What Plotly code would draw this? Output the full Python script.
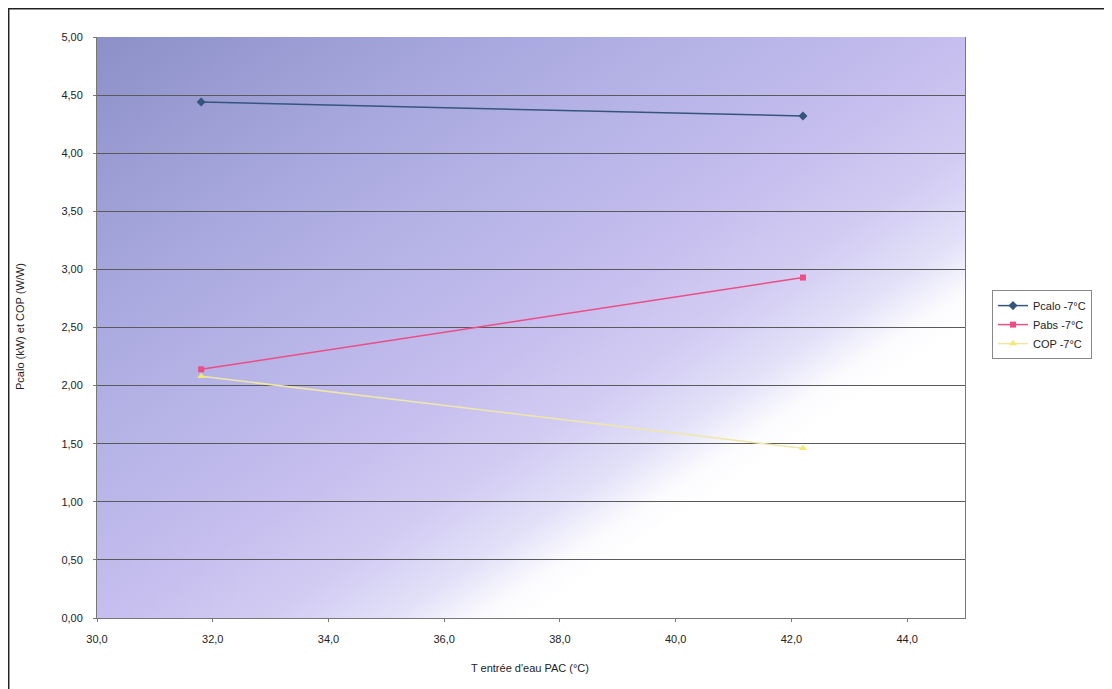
import base64
import plotly.graph_objects as go

# Data
t_water = [31.8, 42.2]
pcalo = [4.44, 4.32]
pabs = [2.14, 2.93]
cop = [2.08, 1.46]
series_names = ["Pcalo -7°C", "Pabs -7°C", "COP -7°C"]

x_title = "T entrée d'eau PAC (°C)"
y_title = "Pcalo (kW) et COP (W/W)"

svg = """<svg xmlns='http://www.w3.org/2000/svg' width='800' height='600' viewBox='0 0 800 600' preserveAspectRatio='none'>
<defs><linearGradient id='g' x1='0' y1='0' x2='1' y2='1'>
<stop offset='0' stop-color='#8c90c7'/>
<stop offset='0.25' stop-color='#aaaae0'/>
<stop offset='0.5' stop-color='#c5beee'/>
<stop offset='0.6' stop-color='#d2ccf3'/>
<stop offset='0.67' stop-color='#e2e0f8'/>
<stop offset='0.72' stop-color='#fbfbfe'/>
<stop offset='0.75' stop-color='#ffffff'/>
<stop offset='1' stop-color='#ffffff'/>
</linearGradient></defs>
<rect width='800' height='600' fill='url(#g)'/>
</svg>"""
bg_uri = "data:image/svg+xml;base64," + base64.b64encode(svg.encode()).decode()

W, H = 1104, 681
L, R, T, B = 89, 147, 29, 71
pw, ph = W - L - R, H - T - B

def px(xf):
    return (xf - L) / pw

def py(yf):
    return (H - B - yf) / ph

fig = go.Figure()
fig.add_trace(go.Scatter(x=t_water, y=pcalo, name=series_names[0], mode="lines+markers",
                         line=dict(color="#35557f", width=1.5),
                         marker=dict(symbol="diamond", size=7, color="#35557f")))
fig.add_trace(go.Scatter(x=t_water, y=pabs, name=series_names[1], mode="lines+markers",
                         line=dict(color="#ec4d85", width=1.5),
                         marker=dict(symbol="square", size=6, color="#ec4d85")))
fig.add_trace(go.Scatter(x=t_water, y=cop, name=series_names[2], mode="lines+markers",
                         line=dict(color="#efe6a8", width=1.5),
                         marker=dict(symbol="triangle-up", size=7, color="#f2e870")))

fig.update_layout(
    width=W, height=H,
    margin=dict(l=L, r=R, t=T, b=B),
    paper_bgcolor="white",
    plot_bgcolor="rgba(0,0,0,0)",
    separators=", ",
    font=dict(family="Liberation Sans, Arial, sans-serif", size=11, color="#222"),
    showlegend=True,
    legend=dict(x=px(984), y=0.505, xanchor="left", yanchor="middle",
                bgcolor="white", bordercolor="#888", borderwidth=1,
                font=dict(size=11), tracegroupgap=2),
    images=[dict(source=bg_uri, xref="paper", yref="paper", x=0, y=1,
                 sizex=1, sizey=1, sizing="stretch", layer="below")],
    shapes=[
        dict(type="line", xref="paper", yref="paper", x0=px(0.5), x1=px(W), y0=py(0.7), y1=py(0.7),
             line=dict(color="#222", width=1.5)),
        dict(type="line", xref="paper", yref="paper", x0=px(0.7), x1=px(0.7), y0=py(0), y1=py(H),
             line=dict(color="#222", width=1.5)),
    ],
    annotations=[
        dict(text=y_title, xref="paper", yref="paper", x=px(12), y=py(319),
             xanchor="center", yanchor="middle", textangle=-90, showarrow=False,
             font=dict(size=11)),
        dict(text=x_title, xref="paper", yref="paper", x=px(522), y=py(660),
             xanchor="center", yanchor="middle", showarrow=False, font=dict(size=11)),
    ],
)
fig.update_xaxes(range=[30, 45], dtick=2, tick0=30, tickformat=".1f",
                 showgrid=False, showline=True, linecolor="#777", mirror=False,
                 ticks="outside", ticklen=3, tickcolor="#777", ticklabelstandoff=8,
                 zeroline=False)
fig.update_yaxes(range=[0, 5], dtick=0.5, tickformat=".2f",
                 showgrid=True, gridcolor="#5a5a5a", gridwidth=1,
                 showline=True, linecolor="#777", mirror=True,
                 ticks="outside", ticklen=3, tickcolor="#777", ticklabelstandoff=8,
                 zeroline=False)

fig.write_html("out.html")
